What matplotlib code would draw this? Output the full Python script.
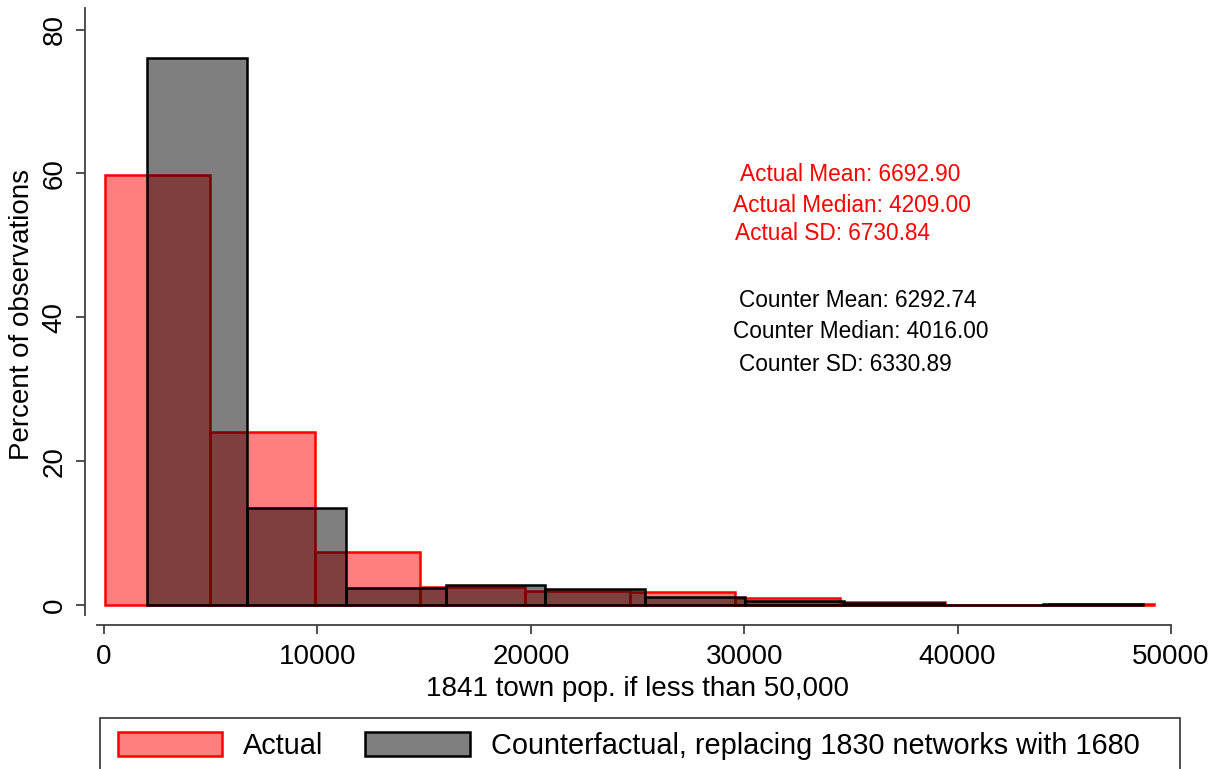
import numpy as np
import matplotlib
matplotlib.use("Agg")
import matplotlib.pyplot as plt
from matplotlib.patches import Patch, Rectangle

plt.rcParams['font.family'] = ['Liberation Sans', 'DejaVu Sans']

# Histogram of 1841 town population (percent of observations per bin)
actual_bin_start = 60
actual_bin_width = 4916
actual_pct = [59.8, 24.1, 7.3, 2.5, 2.0, 1.8, 0.9, 0.4, 0.0, 0.1]

counter_bin_start = 2015
counter_bin_width = 4667
counter_pct = [76.1, 13.5, 2.3, 2.8, 2.2, 1.1, 0.6, 0.2, 0.0, 0.1]

actual_stats = [("Actual Mean", 6692.90), ("Actual Median", 4209.00), ("Actual SD", 6730.84)]
counter_stats = [("Counter Mean", 6292.74), ("Counter Median", 4016.00), ("Counter SD", 6330.89)]

x_ticks = [0, 10000, 20000, 30000, 40000, 50000]
y_ticks = [0, 20, 40, 60, 80]

W, H = 1221, 769
fig = plt.figure(figsize=(W / 100, H / 100), dpi=100)

def px_axes(left, top, right, bottom):
    return [left / W, 1 - bottom / H, (right - left) / W, (bottom - top) / H]

ax = fig.add_axes(px_axes(97, 8, 1171, 615))
ax.set_xlim(-330, 50000)
ax.set_ylim(-1.4, 83)

red_face = (1, 0, 0, 0.5)
black_face = (0, 0, 0, 0.5)

a_left = actual_bin_start + actual_bin_width * np.arange(len(actual_pct))
c_left = counter_bin_start + counter_bin_width * np.arange(len(counter_pct))

ax.bar(a_left, actual_pct, width=actual_bin_width, align='edge',
       facecolor=red_face, edgecolor='red', linewidth=1.8, zorder=2)
ax.bar(c_left, counter_pct, width=counter_bin_width, align='edge',
       facecolor=black_face, edgecolor='black', linewidth=1.8, zorder=3)

# Summary statistics
stat_pos_red = [(29800, 59.9), (29480, 55.6), (29570, 51.6)]
stat_pos_blk = [(29760, 42.3), (29480, 38.0), (29760, 33.4)]
for (name, val), (x, y) in zip(actual_stats, stat_pos_red):
    ax.text(x, y, f"{name}: {val:.2f}", color='red', fontsize=16.3,
            ha='left', va='center', zorder=5)
for (name, val), (x, y) in zip(counter_stats, stat_pos_blk):
    ax.text(x, y, f"{name}: {val:.2f}", color='black', fontsize=16.3,
            ha='left', va='center', zorder=5)

# Stata-style detached axes
for s in ('top', 'right'):
    ax.spines[s].set_visible(False)
ax.spines['left'].set_position(('outward', 8.6))
ax.spines['bottom'].set_position(('outward', 7.2))
for s in ('left', 'bottom'):
    ax.spines[s].set_color('#404040')
    ax.spines[s].set_linewidth(1.3)

ax.set_xticks(x_ticks)
ax.set_xticklabels([str(t) for t in x_ticks])
ax.set_yticks(y_ticks)
ax.set_yticklabels([str(t) for t in y_ticks], rotation=90, va='center')
ax.tick_params(axis='both', colors='#404040', labelcolor='black',
               labelsize=20, length=6.5, width=1.3)
ax.tick_params(axis='x', pad=7)
ax.tick_params(axis='y', pad=6)

fig.text(637 / W, 1 - 689 / H, "1841 town pop. if less than 50,000",
         ha='center', va='center', fontsize=20)
fig.text(22 / W, 1 - 315 / H, "Percent of observations",
         ha='center', va='center', rotation=90, fontsize=20)

# Legend box (runs past the bottom edge)
fig.patches.append(Rectangle((100 / W, -0.05), (1080) / W, (1 - 718 / H) + 0.05,
                             transform=fig.transFigure, fill=False,
                             edgecolor='#333333', linewidth=1.2))
handles = [Patch(facecolor=red_face, edgecolor='red', linewidth=1.8, label='Actual'),
           Patch(facecolor=black_face, edgecolor='black', linewidth=1.8,
                 label='Counterfactual, replacing 1830 networks with 1680')]
fig.legend(handles=handles, loc='center left',
           bbox_to_anchor=(106 / W, 1 - 746 / H), ncol=2, frameon=False,
           fontsize=20.8, handlelength=3.63, handleheight=0.92,
           columnspacing=1.45, handletextpad=0.72, borderaxespad=0)

fig.savefig("out.png", dpi=100)
